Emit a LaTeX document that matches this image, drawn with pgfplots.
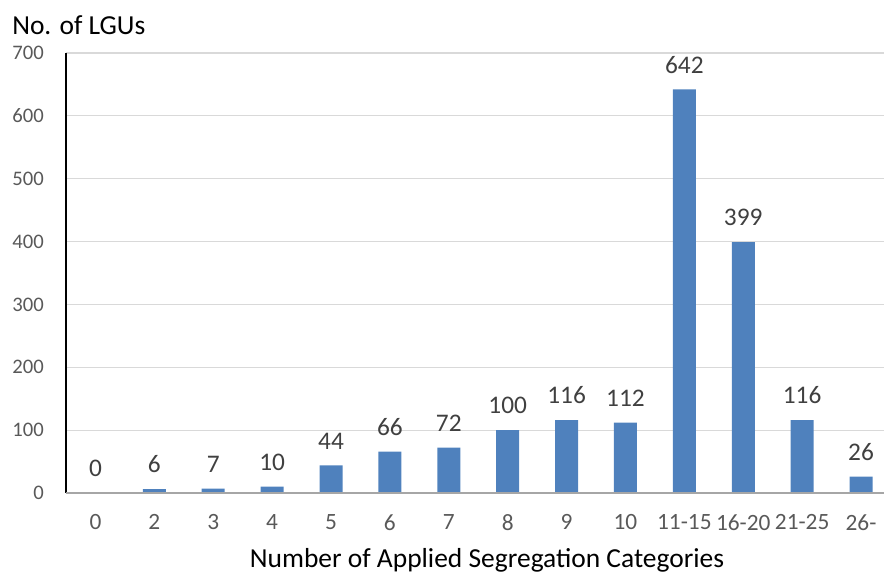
\documentclass[border=0pt]{standalone}
\usepackage{pgfplots}
\pgfplotsset{compat=1.18}
\usepackage{fontspec}
\setmainfont{Carlito}
\definecolor{barblue}{RGB}{79,129,189}
\definecolor{gridgray}{RGB}{217,217,217}
\definecolor{tickgray}{RGB}{89,89,89}
\definecolor{labgray}{RGB}{64,64,64}
\begin{document}
\begin{tikzpicture}
\path[use as bounding box] (-49.5pt,-60pt) rectangle (613.5pt,369.75pt);
\begin{axis}[
  at={(0,0)}, anchor=south west,
  scale only axis,
  width=613.5pt, height=330pt,
  xmin=-0.5, xmax=13.39,
  ymin=0, ymax=700,
  ytick={0,100,...,700},
  xtick={0,...,13},
  xticklabels={0,2,3,4,5,6,7,8,9,10,11-15,16-20,21-25,26-},
  major tick length=0pt,
  ymajorgrids, grid style={gridgray, line width=0.8pt},
  axis line style={draw=none},
  /pgf/number format/assume math mode=true,
  yticklabel style={font=\fontsize{15.5}{16}\selectfont, text=tickgray, inner sep=0pt, xshift=-16.5pt},
  xticklabel style={font=\fontsize{17.5}{18}\selectfont, text=tickgray, inner sep=0pt, yshift=-16pt},
  clip=false,
]
\addplot[ybar, bar width=17.25pt, fill=barblue, draw=none,
  nodes near coords,
  every node near coord/.append style={font=\fontsize{19}{19}\selectfont, text=labgray, anchor=south, inner sep=0pt, yshift=12pt}]
  coordinates {(0,0) (1,6) (2,7) (3,10) (4,44) (5,66) (6,72) (7,100) (8,116) (9,112) (10,642) (11,399) (12,116) (13,26)};
\draw[black, line width=0.9pt] (axis cs:-0.5,0) -- (axis cs:-0.5,700);
\draw[gray!70, line width=0.9pt] (axis cs:-0.5,0) -- (axis cs:13.39,0);
\end{axis}
\node[anchor=west, inner sep=0pt, font=\fontsize{20.6}{22}\selectfont] at (-40.5pt,351pt) {No. of LGUs};
\node[inner sep=0pt, font=\fontsize{20.6}{22}\selectfont] at (315.75pt,-50.25pt) {Number of Applied Segregation Categories};
\end{tikzpicture}
\end{document}
